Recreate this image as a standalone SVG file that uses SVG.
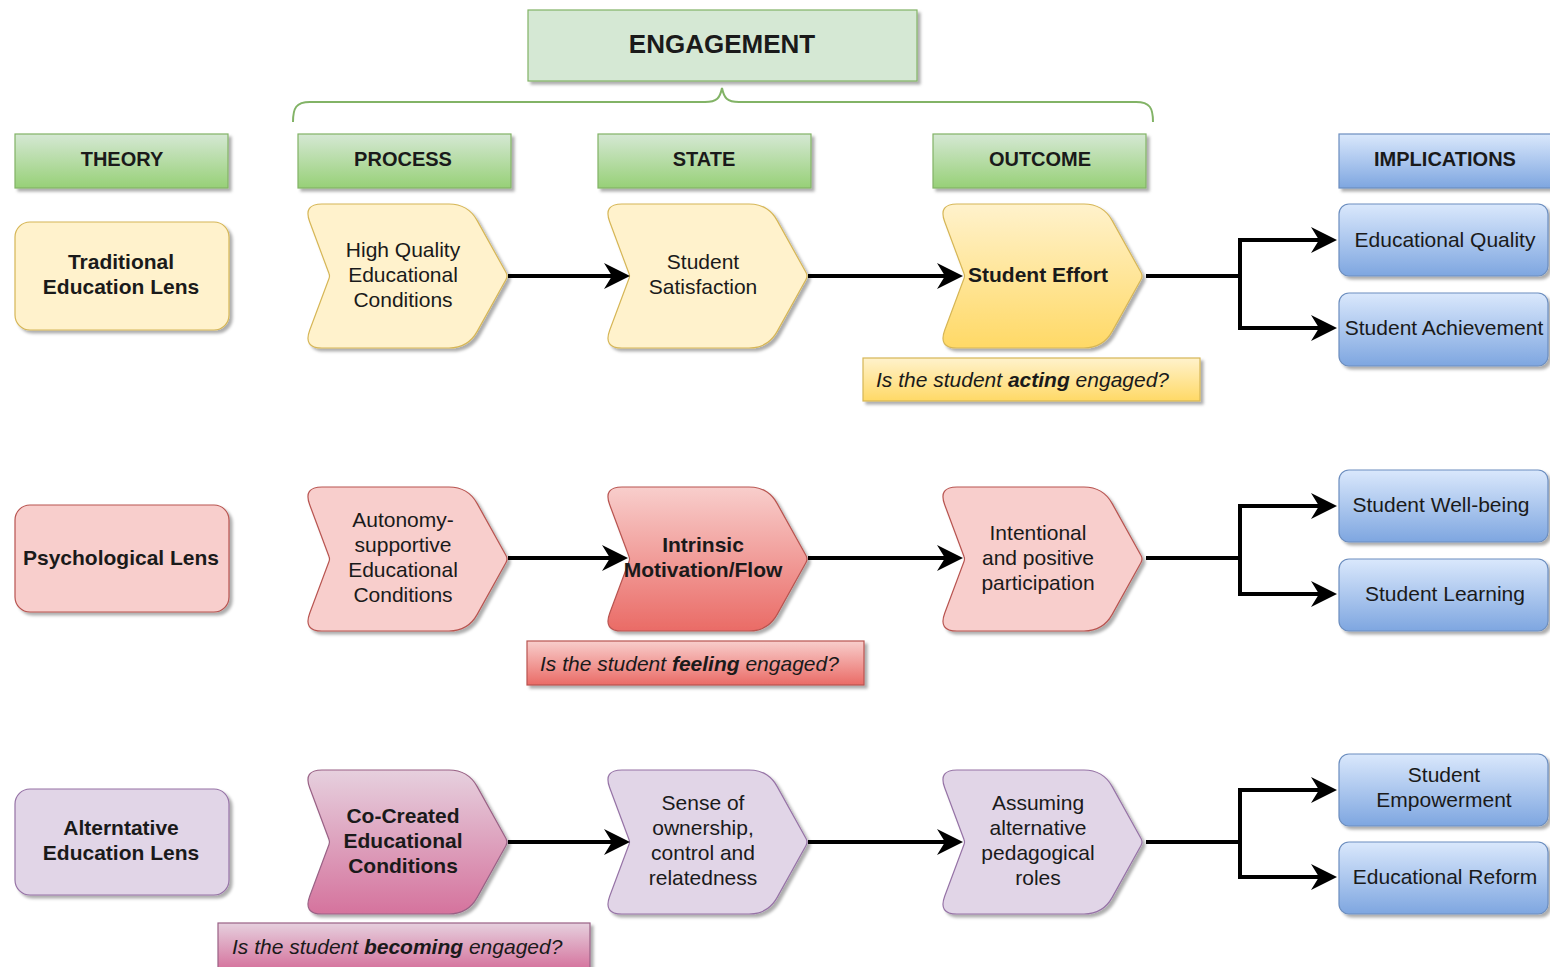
<svg xmlns="http://www.w3.org/2000/svg" xmlns:xlink="http://www.w3.org/1999/xlink" width="1550" height="967" viewBox="0 0 1550 967">
  <defs>
    <style>
      .t { font-family: "Liberation Sans", Arial, Helvetica, sans-serif; font-size: 21px; fill: #1a1a1a; text-anchor: middle; }
      .b { font-weight: bold; }
      .hd { font-family: "Liberation Sans", Arial, Helvetica, sans-serif; font-size: 20px; font-weight: bold; fill: #1a1a1a; text-anchor: middle; }
      .note { font-family: "Liberation Sans", Arial, Helvetica, sans-serif; font-size: 21px; font-style: italic; fill: #1a1a1a; }
      .sh { filter: url(#shadow); }
      .green { fill: url(#gGreen); stroke: #82b366; stroke-width: 1.2; }
      .blue { fill: url(#gBlue); stroke: #6c8ebf; stroke-width: 1.2; }
      .yel { fill: #fff2cc; stroke: #d6b656; stroke-width: 1.2; }
      .red { fill: #f8cecc; stroke: #b85450; stroke-width: 1.2; }
      .pur { fill: #e1d5e7; stroke: #9673a6; stroke-width: 1.2; }
      .edge { fill: none; stroke: #000; stroke-width: 4; stroke-linejoin: miter; }
    </style>
    <filter id="shadow" x="-10%" y="-10%" width="130%" height="130%">
      <feDropShadow dx="3" dy="3" stdDeviation="1.6" flood-color="#000" flood-opacity="0.32"/>
    </filter>
    <linearGradient id="gGreen" x1="0" y1="0" x2="0" y2="1">
      <stop offset="0" stop-color="#d5e8d4"/>
      <stop offset="1" stop-color="#97d077"/>
    </linearGradient>
    <linearGradient id="gBlue" x1="0" y1="0" x2="0" y2="1">
      <stop offset="0" stop-color="#dae8fc"/>
      <stop offset="1" stop-color="#7ea6e0"/>
    </linearGradient>
    <linearGradient id="gYel" x1="0" y1="0" x2="0" y2="1">
      <stop offset="0" stop-color="#fff2cc"/>
      <stop offset="1" stop-color="#ffd966"/>
    </linearGradient>
    <linearGradient id="gRed" x1="0" y1="0" x2="0" y2="1">
      <stop offset="0" stop-color="#f8cecc"/>
      <stop offset="1" stop-color="#ea6b66"/>
    </linearGradient>
    <linearGradient id="gPink" x1="0" y1="0" x2="0" y2="1">
      <stop offset="0" stop-color="#e6d0de"/>
      <stop offset="1" stop-color="#d5739d"/>
    </linearGradient>
    <!-- step (chevron) outline, 205 x 144, rounded corners -->
    <path id="step" d="M19,0 L146,0 Q165,0 174.2,16.6 L203,68.5 Q205,72 203,75.5 L174.2,127.4 Q165,144 146,144 L19,144 Q0,144 6.7,126.2 L26,74.5 Q27,72 26,69.5 L6.7,17.8 Q0,0 19,0 Z"/>
    <marker id="arr" markerUnits="userSpaceOnUse" markerWidth="28" markerHeight="28" refX="18" refY="13" orient="auto">
      <path d="M0,0 L26,13 L0,26 L8,13 Z" fill="#000"/>
    </marker>
  </defs>

  <rect width="1550" height="967" fill="#ffffff"/>

  <!-- top heading and brace -->
  <g id="engagement">
    <rect class="sh" x="528" y="10" width="389" height="71" fill="#d5e8d4" stroke="#82b366" stroke-width="1.2"/>
    <text class="hd" x="722" y="53" style="font-size:26px">ENGAGEMENT</text>
  </g>
  <g id="brace">
    <path d="M293,122 C293,108 296,102 310,102 L705,102 C717,102 720,98 722,88 C724,98 727,102 739,102 L1136,102 C1150,102 1153,108 1153,122" fill="none" stroke="#82b366" stroke-width="2"/>
  </g>

  <!-- column headings -->
  <g id="h-theory"><rect class="green sh" x="15" y="134" width="213" height="54"/><text class="hd" x="122" y="166">THEORY</text></g>
  <g id="h-process"><rect class="green sh" x="298" y="134" width="213" height="54"/><text class="hd" x="403" y="166">PROCESS</text></g>
  <g id="h-state"><rect class="green sh" x="598" y="134" width="213" height="54"/><text class="hd" x="704" y="166">STATE</text></g>
  <g id="h-outcome"><rect class="green sh" x="933" y="134" width="213" height="54"/><text class="hd" x="1040" y="166">OUTCOME</text></g>
  <g id="h-implications"><rect class="blue sh" x="1339" y="134" width="213" height="54"/><text class="hd" x="1445" y="166">IMPLICATIONS</text></g>

  <!-- row 1: traditional education lens -->
  <g id="lens-traditional">
    <rect class="yel sh" x="15" y="222" width="214" height="108" rx="15"/>
    <text class="t b" x="121" y="269">Traditional</text>
    <text class="t b" x="121" y="294">Education Lens</text>
  </g>
  <g id="p1">
    <use href="#step" x="303" y="204" class="yel sh"/>
    <text class="t" x="403" y="257">High Quality</text>
    <text class="t" x="403" y="282">Educational</text>
    <text class="t" x="403" y="307">Conditions</text>
  </g>
  <g id="s1">
    <use href="#step" x="603" y="204" class="yel sh"/>
    <text class="t" x="703" y="269">Student</text>
    <text class="t" x="703" y="294">Satisfaction</text>
  </g>
  <g id="o1">
    <use href="#step" x="938" y="204" class="sh" fill="url(#gYel)" stroke="#d6b656" stroke-width="1.2"/>
    <text class="t b" x="1038" y="282">Student Effort</text>
  </g>
  <g id="note1">
    <rect class="sh" x="863" y="358" width="337" height="43" fill="url(#gYel)" stroke="#d6b656" stroke-width="1.2"/>
    <text class="note" x="876" y="387">Is the student <tspan font-weight="bold">acting</tspan> engaged?</text>
  </g>
  <g id="i1a"><rect class="blue sh" x="1339" y="204" width="209" height="72" rx="10"/><text class="t" x="1445" y="247">Educational Quality</text></g>
  <g id="i1b"><rect class="blue sh" x="1339" y="293" width="209" height="73" rx="10"/><text class="t" x="1444" y="335">Student Achievement</text></g>

  <!-- row 2: psychological lens -->
  <g id="lens-psychological">
    <rect class="red sh" x="15" y="505" width="214" height="107" rx="15"/>
    <text class="t b" x="121" y="565">Psychological Lens</text>
  </g>
  <g id="p2">
    <use href="#step" x="303" y="487" class="red sh"/>
    <text class="t" x="403" y="527">Autonomy-</text>
    <text class="t" x="403" y="552">supportive</text>
    <text class="t" x="403" y="577">Educational</text>
    <text class="t" x="403" y="602">Conditions</text>
  </g>
  <g id="s2">
    <use href="#step" x="603" y="487" class="sh" fill="url(#gRed)" stroke="#b85450" stroke-width="1.2"/>
    <text class="t b" x="703" y="552">Intrinsic</text>
    <text class="t b" x="703" y="577">Motivation/Flow</text>
  </g>
  <g id="o2">
    <use href="#step" x="938" y="487" class="red sh"/>
    <text class="t" x="1038" y="540">Intentional</text>
    <text class="t" x="1038" y="565">and positive</text>
    <text class="t" x="1038" y="590">participation</text>
  </g>
  <g id="note2">
    <rect class="sh" x="527" y="641" width="337" height="44" fill="url(#gRed)" stroke="#b85450" stroke-width="1.2"/>
    <text class="note" x="540" y="671">Is the student <tspan font-weight="bold">feeling</tspan> engaged?</text>
  </g>
  <g id="i2a"><rect class="blue sh" x="1339" y="470" width="209" height="72" rx="10"/><text class="t" x="1441" y="512">Student Well-being</text></g>
  <g id="i2b"><rect class="blue sh" x="1339" y="559" width="209" height="72" rx="10"/><text class="t" x="1445" y="601">Student Learning</text></g>

  <!-- row 3: alternative education lens -->
  <g id="lens-alternative">
    <rect class="pur sh" x="15" y="789" width="214" height="106" rx="15"/>
    <text class="t b" x="121" y="835">Alterntative</text>
    <text class="t b" x="121" y="860">Education Lens</text>
  </g>
  <g id="p3">
    <use href="#step" x="303" y="770" class="sh" fill="url(#gPink)" stroke="#996185" stroke-width="1.2"/>
    <text class="t b" x="403" y="823">Co-Created</text>
    <text class="t b" x="403" y="848">Educational</text>
    <text class="t b" x="403" y="873">Conditions</text>
  </g>
  <g id="s3">
    <use href="#step" x="603" y="770" class="pur sh"/>
    <text class="t" x="703" y="810">Sense of</text>
    <text class="t" x="703" y="835">ownership,</text>
    <text class="t" x="703" y="860">control and</text>
    <text class="t" x="703" y="885">relatedness</text>
  </g>
  <g id="o3">
    <use href="#step" x="938" y="770" class="pur sh"/>
    <text class="t" x="1038" y="810">Assuming</text>
    <text class="t" x="1038" y="835">alternative</text>
    <text class="t" x="1038" y="860">pedagogical</text>
    <text class="t" x="1038" y="885">roles</text>
  </g>
  <g id="note3">
    <rect class="sh" x="218" y="923" width="372" height="46" fill="url(#gPink)" stroke="#996185" stroke-width="1.2"/>
    <text class="note" x="232" y="954">Is the student <tspan font-weight="bold">becoming</tspan> engaged?</text>
  </g>
  <g id="i3a"><rect class="blue sh" x="1339" y="754" width="209" height="72" rx="10"/><text class="t" x="1444" y="782">Student</text><text class="t" x="1444" y="807">Empowerment</text></g>
  <g id="i3b"><rect class="blue sh" x="1339" y="842" width="209" height="72" rx="10"/><text class="t" x="1445" y="884">Educational Reform</text></g>

  <!-- connectors -->
  <g id="connectors">
    <path class="edge" d="M508,276 H622" marker-end="url(#arr)"/>
    <path class="edge" d="M808,276 H955" marker-end="url(#arr)"/>
    <path class="edge" d="M1146,276 H1240 V240 H1329" marker-end="url(#arr)"/>
    <path class="edge" d="M1240,276 V328 H1329" marker-end="url(#arr)"/>

    <path class="edge" d="M508,558 H620" marker-end="url(#arr)"/>
    <path class="edge" d="M808,558 H955" marker-end="url(#arr)"/>
    <path class="edge" d="M1146,558 H1240 V506 H1329" marker-end="url(#arr)"/>
    <path class="edge" d="M1240,558 V594 H1329" marker-end="url(#arr)"/>

    <path class="edge" d="M508,842 H622" marker-end="url(#arr)"/>
    <path class="edge" d="M808,842 H955" marker-end="url(#arr)"/>
    <path class="edge" d="M1146,842 H1240 V790 H1329" marker-end="url(#arr)"/>
    <path class="edge" d="M1240,842 V877 H1329" marker-end="url(#arr)"/>
  </g>
</svg>
